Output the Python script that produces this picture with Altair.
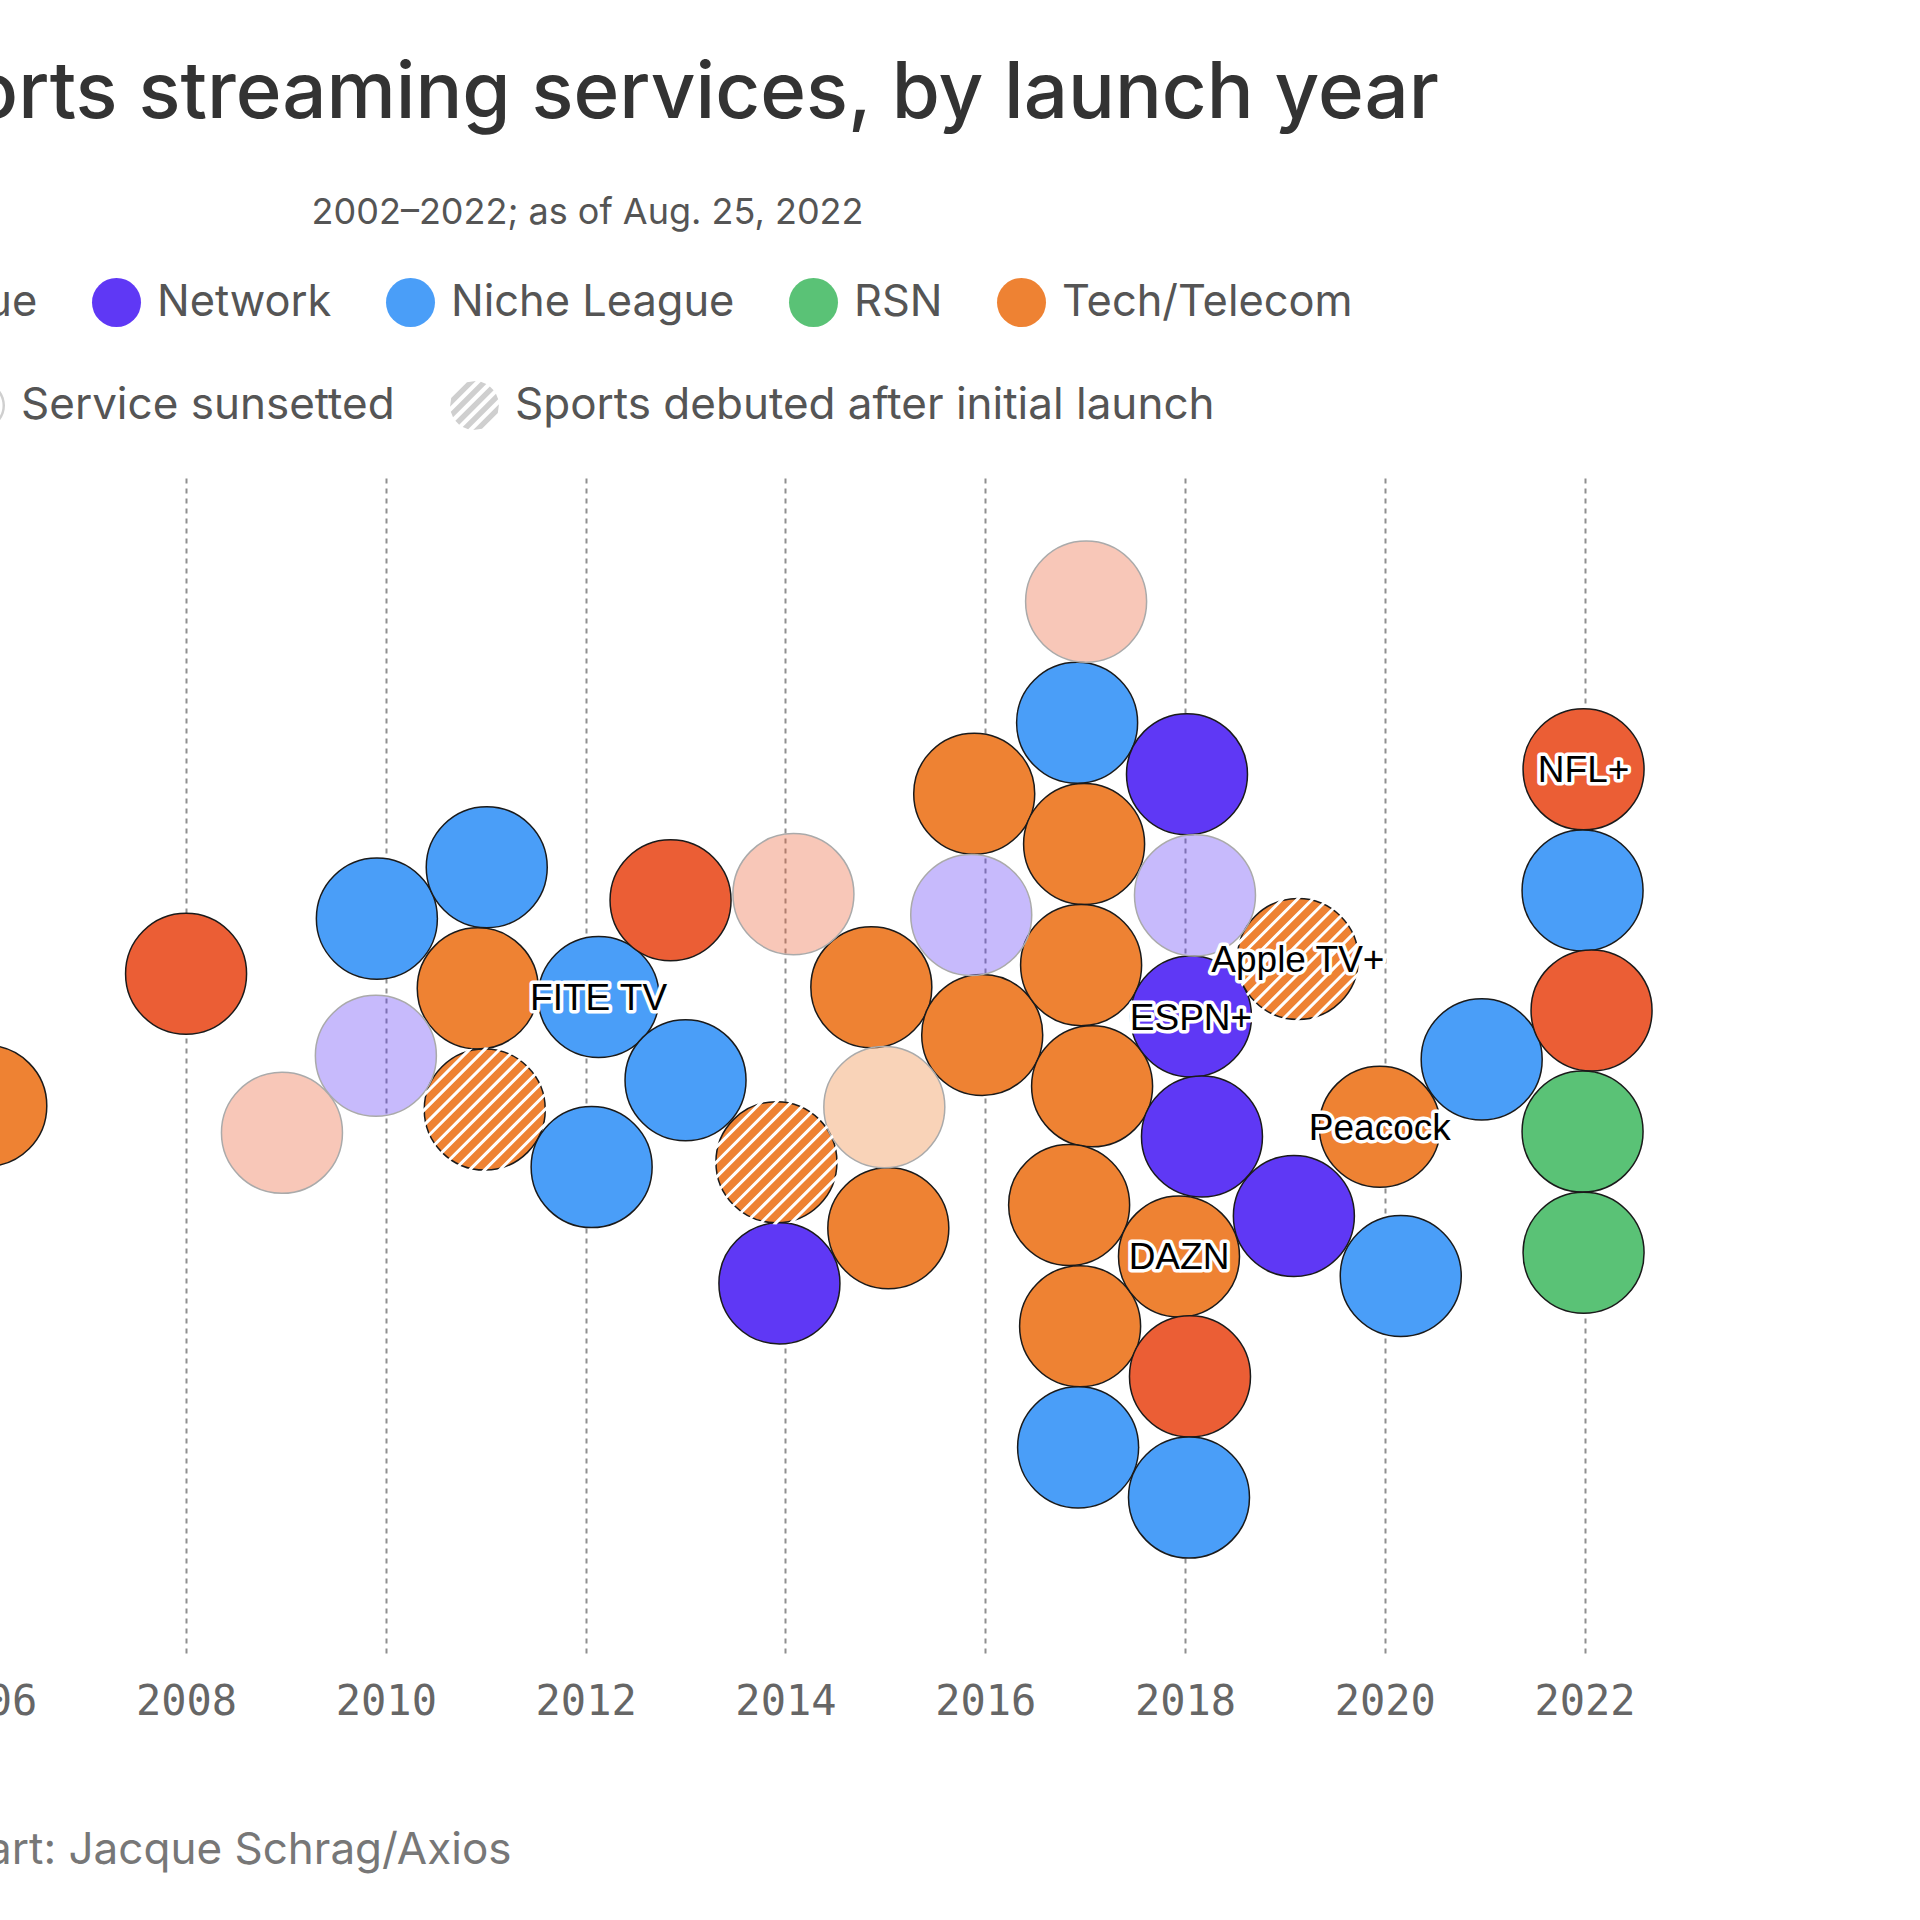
import math
import altair as alt
import pandas as pd

# ---------------- data ----------------
categories = ["League", "Network", "Niche League", "RSN", "Tech/Telecom"]
palette = ["#EB5E35", "#5F38F5", "#4A9EF8", "#5AC276", "#EE8233"]
status_names = ["Service sunsetted", "Sports debuted after initial launch"]

# swarm position of each service (x in years, y = offset from the centre line)
x_pos = [2006.00, 2008.00, 2008.96, 2009.91, 2009.90, 2011.01, 2010.92, 2010.99,
         2012.13, 2012.06, 2012.85, 2013.00, 2014.08, 2013.91, 2013.94, 2014.86,
         2014.99, 2015.03, 2015.89, 2015.86, 2015.97, 2017.01, 2016.92, 2016.99,
         2016.96, 2017.07, 2016.84, 2016.95, 2016.93, 2018.02, 2018.10, 2018.06,
         2018.17, 2017.94, 2018.05, 2018.04, 2019.13, 2019.09, 2019.95, 2020.16,
         2020.97, 2021.99, 2021.98, 2022.07, 2021.98, 2021.99]
y_pos = [-33, 75, -55, 120, 8, 162, 63, -36,
         56, -83, 135, -12, 140, -79, -178, 64,
         -34, -133, 222, 123, 25, 379, 280, 181,
         82, -17, -114, -213, -312, 238, 139, 40,
         -58, -156, -254, -353, 87, -123, -50, -172,
         5, 242, 143, 45, -54, -153]
category = ["Tech/Telecom", "League", "League", "Niche League", "Network", "Niche League", "Tech/Telecom", "Tech/Telecom",
            "Niche League", "Niche League", "League", "Niche League", "League", "Tech/Telecom", "Network", "Tech/Telecom",
            "Tech/Telecom", "Tech/Telecom", "Tech/Telecom", "Network", "Tech/Telecom", "League", "Niche League", "Tech/Telecom",
            "Tech/Telecom", "Tech/Telecom", "Tech/Telecom", "Tech/Telecom", "Niche League", "Network", "Network", "Network",
            "Network", "Tech/Telecom", "League", "Niche League", "Tech/Telecom", "Network", "Tech/Telecom", "Niche League",
            "Niche League", "League", "Niche League", "League", "RSN", "RSN"]
A, S, D = "Active", "Service sunsetted", "Sports debuted after initial launch"
status = [A, A, S, A, S, A, A, D,
          A, A, A, A, S, D, A, A,
          S, A, A, S, A, S, A, A,
          A, A, A, A, A, A, S, A,
          A, A, A, A, D, A, A, A,
          A, A, A, A, A, A]
label = ["", "", "", "", "", "", "", "",
         "FITE TV", "", "", "", "", "", "", "",
         "", "", "", "", "", "", "", "",
         "", "", "", "", "", "", "", "ESPN+",
         "", "DAZN", "", "", "Apple TV+", "", "Peacock", "",
         "", "NFL+", "", "", "", ""]
year_ticks = list(range(2006, 2023, 2))

df = pd.DataFrame({"x_pos": x_pos, "y_pos": y_pos, "category": category,
                   "status": status, "label": label})


# ---------------- symbol shapes ----------------
def stripe_path(period, width, R):
    s2 = math.sqrt(2)
    parts = []
    kmax = int(R / period) + 2
    for k in range(-kmax, kmax + 1):
        d = k * period
        d1, d2 = d - width / 2, d + width / 2
        if d2 <= -R or d1 >= R:
            continue
        d1 = max(d1, -R * 0.999)
        d2 = min(d2, R * 0.999)
        t1 = math.sqrt(R * R - d1 * d1)
        t2 = math.sqrt(R * R - d2 * d2)
        pts = [((a + t) / s2, (a - t) / s2) for a, t in ((d1, -t1), (d1, t1), (d2, t2), (d2, -t2))]
        parts.append("M" + " L".join(f"{px:.4f},{py:.4f}" for px, py in pts) + " Z")
    return " ".join(parts)


hatch_fine = stripe_path(0.176, 0.05, 1.03)
hatch_legend = stripe_path(0.39, 0.22, 1.0)
ring = ("M1,0 A1,1 0 1,1 -1,0 A1,1 0 1,1 1,0 Z "
        "M0.9,0 A0.9,0.9 0 1,0 -0.9,0 A0.9,0.9 0 1,0 0.9,0 Z")

BIG = 121 * 121
SANS = "Inter"
LEFT = 120  # part of the plot that lies left of the picture's edge

xscale = alt.Scale(domain=[2004.936, 2025.358], nice=False, zero=False)
yscale = alt.Scale(domain=[-480, 480], nice=False, zero=False)

x_enc = alt.X("x_pos:Q", scale=xscale, axis=alt.Axis(
    values=year_ticks, format="d", labelFont="DejaVu Sans Mono", labelFontSize=42,
    labelColor="#666", labelPadding=28, ticks=False, tickSize=0, domain=False,
    labelFlush=False, labelOverlap=False,
    grid=True, gridDash=[5, 5], gridColor="#8f8f8f", gridWidth=2, gridOpacity=1,
    title="Chart: Jacque Schrag/Axios", titleX=LEFT + 511, titleY=210, titleAlign="right",
    titleBaseline="alphabetic", titleFont=SANS, titleFontSize=44,
    titleFontWeight="normal", titleColor="#777"))
y_enc = alt.Y("y_pos:Q", scale=yscale, axis=alt.Axis(
    labels=False, ticks=False, domain=False, grid=False,
    title="2002–2022; as of Aug. 25, 2022", titleAngle=0, titleX=LEFT + 863, titleY=-255,
    titleAlign="right", titleBaseline="alphabetic", titleFont=SANS, titleFontSize=36,
    titleFontWeight="normal", titleColor="#555"))

color_enc = alt.Color("category:N", scale=alt.Scale(domain=categories, range=palette),
                      legend=alt.Legend(orient="none", legendX=LEFT - 180, legendY=-200,
                                        direction="horizontal", title=None,
                                        symbolType="circle", symbolSize=2401,
                                        symbolStrokeWidth=0, symbolOpacity=1,
                                        labelFont=SANS, labelFontSize=43.4, labelColor="#555",
                                        labelOffset=16, columnPadding=54, labelLimit=1000))

base = alt.Chart(df)

status_legend_layer = base.transform_filter(alt.datum.status != "Active").mark_point(
    filled=True, color="#cfcfcf", opacity=0, size=10).encode(
    x=x_enc, y=y_enc,
    shape=alt.Shape("status:N", scale=alt.Scale(domain=status_names, range=[ring, hatch_legend]),
                    legend=alt.Legend(orient="none", legendX=LEFT - 44, legendY=-97.5,
                                      direction="horizontal", title=None,
                                      symbolSize=2401, symbolOpacity=1, symbolStrokeWidth=0,
                                      symbolFillColor="#cfcfcf",
                                      labelFont=SANS, labelFontSize=44, labelColor="#555",
                                      labelOffset=16, columnPadding=55, labelLimit=1000)))

active = base.transform_filter(alt.datum.status != "Service sunsetted").mark_point(
    filled=True, size=BIG, shape="circle", stroke="#1a1a1a", strokeWidth=1.5, opacity=1).encode(
    x="x_pos:Q", y="y_pos:Q", color=color_enc)

sunset = base.transform_filter(alt.datum.status == "Service sunsetted").mark_point(
    filled=True, size=BIG, shape="circle", fillOpacity=0.35, stroke="#aaaaaa",
    strokeWidth=1.5, strokeOpacity=1).encode(
    x="x_pos:Q", y="y_pos:Q", color=alt.Color("category:N"))

hatch = base.transform_filter(alt.datum.status == "Sports debuted after initial launch").mark_point(
    filled=True, size=BIG, shape=hatch_fine, color="white", opacity=1, strokeWidth=0).encode(
    x="x_pos:Q", y="y_pos:Q")

lab = base.transform_filter(alt.datum.label != "")
halo = lab.mark_text(font="Liberation Sans", fontSize=37, color="white", stroke="white",
                     strokeWidth=7, strokeJoin="round", baseline="middle", align="center",
                     dy=2).encode(
    x="x_pos:Q", y="y_pos:Q", text="label:N")
text = lab.mark_text(font="Liberation Sans", fontSize=37, color="black",
                     baseline="middle", align="center", dy=2).encode(
    x="x_pos:Q", y="y_pos:Q", text="label:N")

chart = alt.layer(status_legend_layer, active, sunset, hatch, halo, text).properties(
    width=1920 + LEFT, height=1175,
    padding={"left": -LEFT, "top": 478, "right": 0, "bottom": 267},
    autosize=alt.AutoSizeParams(type="none"),
    background="white",
    title=alt.TitleParams(text="Sports streaming services, by launch year", anchor="start",
                          align="right", dx=LEFT + 1439, dy=2, font=SANS, fontSize=78,
                          fontWeight=500, color="#333", baseline="alphabetic",
                          frame="group", offset=0),
).configure_view(stroke=None)

chart.save("out.html", embed_options={"renderer": "svg", "actions": False})
